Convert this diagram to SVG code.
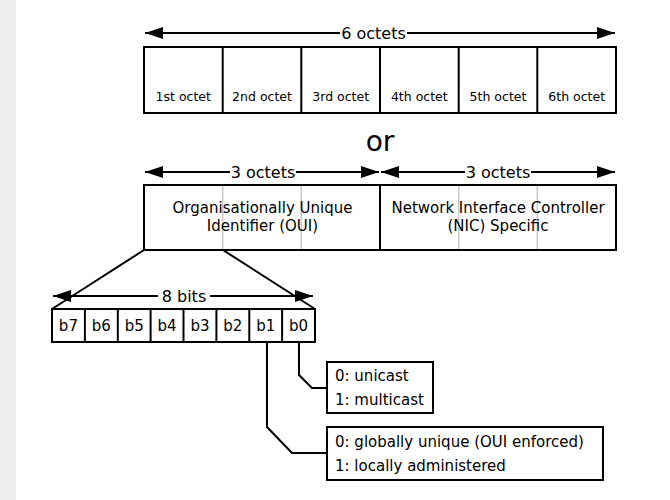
<svg xmlns="http://www.w3.org/2000/svg" width="670" height="500" viewBox="0 0 670 500">
<style>
text{font-family:"DejaVu Sans",Verdana,sans-serif;fill:#000}
.box{fill:#fff;stroke:#000;stroke-width:2}
.div{stroke:#000;stroke-width:2}
.gdiv{stroke:#c8c8c8;stroke-width:1.5}
.ln{fill:none;stroke:#000;stroke-width:2}
.arr{stroke:#000;stroke-width:2;marker-start:url(#ah);marker-end:url(#ah)}
.cell{font-size:12.5px;text-anchor:middle}
.lbl{font-size:16px;text-anchor:middle}
.mid{font-size:15px;text-anchor:middle}
.bit{font-size:15px;text-anchor:middle}
.leg{font-size:15px}
.bg{fill:#fff}
</style>
<defs>
<marker id="ah" viewBox="0 0 18 12" refX="18" refY="6" markerWidth="18" markerHeight="12" markerUnits="userSpaceOnUse" orient="auto-start-reverse">
<path d="M0,0 L18,6 L0,12 Z" fill="#000"/>
</marker>
</defs>
<rect x="0" y="0" width="670" height="500" fill="#fff"/>
<rect x="0" y="0" width="16" height="500" fill="#efefef"/>

<g id="connectors">
<line class="arr" x1="145" y1="33" x2="615" y2="33"/>
<line class="arr" x1="145" y1="172" x2="379" y2="172"/>
<line class="arr" x1="381" y1="172" x2="615" y2="172"/>
<line class="arr" x1="53" y1="296" x2="313" y2="296"/>
<line class="ln" x1="144" y1="250" x2="52" y2="309"/>
<line class="ln" x1="223" y1="250" x2="315" y2="309"/>
<polyline class="ln" points="299,342 299,375 312,388 327,388"/>
<polyline class="ln" points="267,342 267,427 292,453 327,453"/>
</g>
<g id="labels-arrows">
<rect class="bg" x="340" y="22" width="67" height="20"/>
<text class="lbl" x="373.5" y="39">6 octets</text>
<rect class="bg" x="230" y="162" width="66" height="20"/>
<text class="lbl" x="263" y="178">3 octets</text>
<rect class="bg" x="465" y="162" width="66" height="20"/>
<text class="lbl" x="498" y="178">3 octets</text>
<rect class="bg" x="158" y="286" width="52" height="20"/>
<text class="lbl" x="184" y="302">8 bits</text>
</g>

<g id="six-octets">
<rect class="box" x="144" y="47" width="472" height="66"/>
<line class="div" x1="222.7" y1="47" x2="222.7" y2="113"/>
<line class="div" x1="301.3" y1="47" x2="301.3" y2="113"/>
<line class="div" x1="380" y1="47" x2="380" y2="113"/>
<line class="div" x1="458.7" y1="47" x2="458.7" y2="113"/>
<line class="div" x1="537.3" y1="47" x2="537.3" y2="113"/>
<text class="cell" x="183.3" y="101">1st octet</text>
<text class="cell" x="262" y="101">2nd octet</text>
<text class="cell" x="340.7" y="101">3rd octet</text>
<text class="cell" x="419.3" y="101">4th octet</text>
<text class="cell" x="498" y="101">5th octet</text>
<text class="cell" x="576.7" y="101">6th octet</text>
</g>

<text x="380" y="151" font-size="28" text-anchor="middle">or</text>

<g id="oui">
<rect class="box" x="144" y="185" width="236" height="65"/>
<line class="gdiv" x1="222.7" y1="186" x2="222.7" y2="249"/>
<line class="gdiv" x1="301.3" y1="186" x2="301.3" y2="249"/>
<text class="mid" x="262.5" y="213">Organisationally Unique</text>
<text class="mid" x="262.5" y="231">Identifier (OUI)</text>
</g>
<g id="nic">
<rect class="box" x="380" y="185" width="236" height="65"/>
<line class="gdiv" x1="458.7" y1="186" x2="458.7" y2="249"/>
<line class="gdiv" x1="537.3" y1="186" x2="537.3" y2="249"/>
<text class="mid" x="498" y="213">Network Interface Controller</text>
<text class="mid" x="498" y="231">(NIC) Specific</text>
</g>

<g id="bits">
<rect class="box" x="52" y="309" width="263" height="33"/>
<line class="div" x1="84.9" y1="309" x2="84.9" y2="342"/>
<line class="div" x1="117.8" y1="309" x2="117.8" y2="342"/>
<line class="div" x1="150.6" y1="309" x2="150.6" y2="342"/>
<line class="div" x1="183.5" y1="309" x2="183.5" y2="342"/>
<line class="div" x1="216.4" y1="309" x2="216.4" y2="342"/>
<line class="div" x1="249.3" y1="309" x2="249.3" y2="342"/>
<line class="div" x1="282.1" y1="309" x2="282.1" y2="342"/>
<text class="bit" x="68.4" y="331">b7</text>
<text class="bit" x="101.3" y="331">b6</text>
<text class="bit" x="134.2" y="331">b5</text>
<text class="bit" x="167.1" y="331">b4</text>
<text class="bit" x="200" y="331">b3</text>
<text class="bit" x="232.8" y="331">b2</text>
<text class="bit" x="265.7" y="331">b1</text>
<text class="bit" x="298.6" y="331">b0</text>
</g>

<g id="cast">
<rect class="box" x="327" y="362" width="106" height="51"/>
<text class="leg" x="335" y="381">0: unicast</text>
<text class="leg" x="335" y="405">1: multicast</text>
</g>
<g id="admin">
<rect class="box" x="327" y="427" width="276" height="53"/>
<text class="leg" x="335" y="447">0: globally unique (OUI enforced)</text>
<text class="leg" x="335" y="471">1: locally administered</text>
</g>
</svg>
